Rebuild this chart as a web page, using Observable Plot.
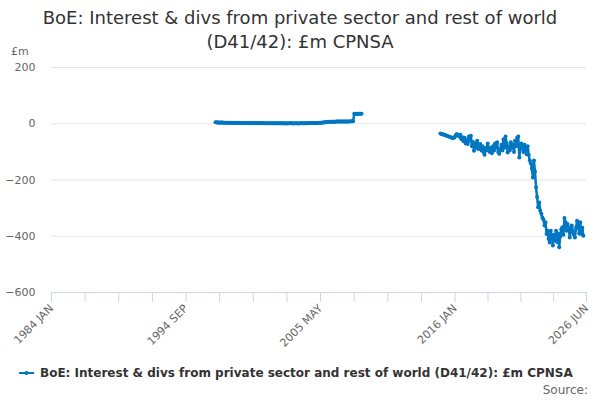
<!DOCTYPE html>
<html><head><meta charset="utf-8">
<script src="https://cdn.jsdelivr.net/npm/d3@7"></script>
<script src="https://cdn.jsdelivr.net/npm/@observablehq/plot@0.6"></script>
<style>
body{margin:0;background:#fff;font-family:"DejaVu Sans",sans-serif;}
#wrap{position:relative;width:600px;height:400px;overflow:hidden;}
#title{position:absolute;top:6px;left:0;width:600px;text-align:center;font-size:18px;line-height:24px;color:#333;}
#unit{position:absolute;left:11px;top:45px;font-size:11px;line-height:13px;color:#666;}
#chart{position:absolute;left:0;top:44px;}
#legend{position:absolute;left:18px;top:365px;height:16px;display:flex;align-items:center;font-size:12px;font-weight:bold;color:#333;white-space:nowrap;}
#legend svg{margin-right:5px;}
#source{position:absolute;right:12px;top:383px;font-size:12px;color:#666;}
</style></head>
<body>
<div id="wrap">
  <div id="title">BoE: Interest &amp; divs from private sector and rest of world<br>(D41/42): £m CPNSA</div>
  <div id="unit">£m</div>
  <div id="chart"></div>
  <div id="legend"><svg width="17" height="10"><line x1="1" y1="5" x2="16" y2="5" stroke="#0077c2" stroke-width="2"/><circle cx="8.5" cy="5" r="2" fill="#0077c2"/></svg><span>BoE: Interest &amp; divs from private sector and rest of world (D41/42): £m CPNSA</span></div>
  <div id="source">Source:</div>
</div>
<script>
const seriesName = "BoE: Interest & divs from private sector and rest of world (D41/42): £m CPNSA";
const color = "#0077c2";

// Segment 1: monthly, starting 1997 JAN
const seg1Start = "1997-01-01";
const seg1Values = [
  5,5,4,5,4,4,5,4,4,4,4,4,          // 1997
  4,4,3,4,4,3,4,3,3,4,3,3,          // 1998
  3,3,3,3,3,3,3,3,3,2,3,3,          // 1999
  3,2,3,3,2,3,3,2,2,3,2,2,          // 2000
  2,2,2,2,2,2,2,2,2,2,2,2,          // 2001
  2,2,2,2,2,1,2,2,1,2,2,2,          // 2002
  2,2,1,2,2,2,2,1,2,2,2,2,          // 2003
  2,2,2,2,3,2,3,3,3,3,3,3,          // 2004
  3,3,3,4,4,4,4,5,5,5,6,6,          // 2005
  7,7,7,7,7,7,7,8,8,8,8,8,          // 2006
  8,8,8,8,8,8,8,8,8,9,9,9,          // 2007
  36,36,36,35,36,36,36,36           // 2008
];

// Segment 2: monthly, starting 2014 NOV
const seg2Start = "2014-11-01";
const seg2Values = [
  -35,-36,                                                   // 2014
  -37,-38,-40,-41,-43,-44,-45,-47,-48,-50,-51,-50,           // 2015
  -45,-38,-37,-40,-46,-39,-55,-48,-62,-50,-70,-58,           // 2016
  -72,-45,-60,-43,-80,-65,-96,-70,-85,-60,-90,-75,           // 2017
  -72,-95,-80,-100,-110,-85,-95,-70,-90,-100,-85,-105,       // 2018
  -80,-95,-70,-85,-66,-100,-107,-90,-75,-95,-55,-85,         // 2019
  -45,-70,-102,-80,-95,-66,-85,-75,-100,-60,-80,-50,         // 2020
  -45,-120,-90,-70,-84,-100,-75,-95,-108,-80,-110,-131,      // 2021
  -140,-160,-191,-131,-170,-226,-260,-297,-280,-309,-320,-333, // 2022
  -340,-362,-350,-392,-380,-410,-422,-380,-400,-433,-395,-415, // 2023
  -380,-420,-390,-439,-400,-375,-368,-395,-335,-350,-380,-356, // 2024
  -370,-404,-385,-362,-380,-395,-404,-370,-345,-365,-390,-350, // 2025
  -392,-370,-398                                             // 2026
];

const xStart = "1984-01-01";
const xEnd = "2026-06-01";
const xTickDates = ["1984-01-01","1994-09-01","2005-05-01","2016-01-01","2026-06-01"];
const xTickLabels = ["1984 JAN","1994 SEP","2005 MAY","2016 JAN","2026 JUN"];
const yTicks = [-600,-400,-200,0,200];

const parse = s => new Date(s + "T00:00:00Z");
const data = [];
seg1Values.forEach((v,i)=>data.push({seg:1, date:d3.utcMonth.offset(parse(seg1Start), i), value:v}));
seg2Values.forEach((v,i)=>data.push({seg:2, date:d3.utcMonth.offset(parse(seg2Start), i), value:v}));

const majorDates = xTickDates.map(parse);
const labelMap = new Map(majorDates.map((d,i)=>[+d, xTickLabels[i]]));
// minor ticks: four per labelled interval
const minorDates = [];
for (let k=0;k<majorDates.length-1;k++){
  const a=+majorDates[k], b=+majorDates[k+1];
  for (let j=0;j<4;j++) minorDates.push(new Date(a+(b-a)*j/4));
}
minorDates.push(majorDates[majorDates.length-1]);

const chart = Plot.plot({
  width:600, height:305,
  marginTop:23, marginBottom:57, marginLeft:51, marginRight:14,
  style:{fontFamily:"DejaVu Sans, sans-serif", fontSize:"11px", color:"#666", background:"transparent"},
  x:{type:"utc", domain:[parse(xStart), parse(xEnd)]},
  y:{domain:[-600,200]},
  marks:[
    Plot.gridY(yTicks.filter(v=>v>-600), {stroke:"#e6e6e6", strokeOpacity:1}),
    Plot.axisY(yTicks, {tickSize:0, tickPadding:16, label:null, fill:"#666"}),
    Plot.ruleY([-600], {stroke:"#ccd6eb"}),
    Plot.axisX(minorDates, {tickSize:10, stroke:"#ccd6eb", strokeOpacity:1, text:null, label:null}),
    Plot.axisX(majorDates, {tickSize:0, tickPadding:14, tickRotate:-45, tickFormat:d=>labelMap.get(+d), label:null, fill:"#666"}),
    Plot.line(data, {x:"date", y:"value", z:"seg", stroke:color, strokeWidth:2.5}),
    Plot.dot(data, {x:"date", y:"value", fill:color, r:2})
  ]
});
document.getElementById("chart").appendChild(chart);
</script>
</body></html>
